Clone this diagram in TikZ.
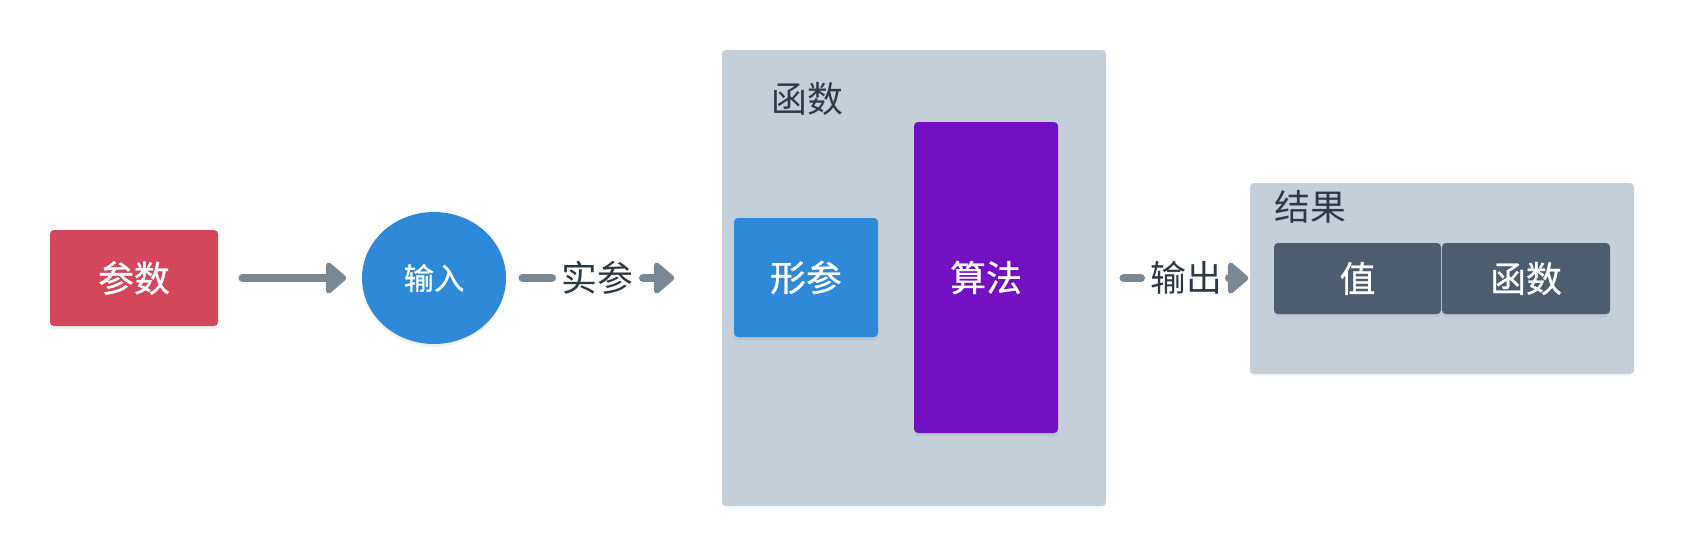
\documentclass[tikz,border=0pt]{standalone}
\usepackage{fontspec}
\newfontfamily\cjk{Noto Sans CJK SC}
\newfontfamily\cjkbox[FakeBold=0.8]{Noto Sans CJK SC}
\usetikzlibrary{shapes.geometric,arrows.meta,shadows}
\definecolor{boxred}{HTML}{D3465B}
\definecolor{boxblue}{HTML}{2E89D8}
\definecolor{boxpurple}{HTML}{7210C2}
\definecolor{boxdark}{HTML}{4B5D6E}
\definecolor{panelgray}{HTML}{C3D0DA}
\definecolor{flowgray}{HTML}{7A8896}
\definecolor{textdark}{HTML}{2C3A46}

\begin{document}
\begin{tikzpicture}[>={Triangle[length=0.22cm,width=0.36cm,round]},
font=\cjk\fontsize{10.2}{12}\selectfont,
main box/.style={rectangle,rounded corners=0.04cm,text=white,inner sep=0pt,
  font=\cjkbox\fontsize{10.2}{12}\selectfont,
  drop shadow={shadow xshift=0cm,shadow yshift=-0.03cm,opacity=0.12}},
panel/.style={rectangle,rounded corners=0.04cm,fill=panelgray,inner sep=0pt,
  drop shadow={shadow xshift=0cm,shadow yshift=-0.02cm,opacity=0.06}},
flow/.style={draw,color=flowgray,line width=0.085cm,line cap=round},
flow label/.style={text=textdark,inner sep=0pt,minimum width=0.9cm,minimum height=0.4cm}]
\useasboundingbox (0,0) rectangle (16.84,5.56);

% input side
  \node[main box,fill=boxred,minimum width=1.68cm,minimum height=0.96cm] (param) at (1.34,2.78) {参数};
  \node[ellipse,fill=boxblue,text=white,inner sep=0pt,minimum width=1.44cm,minimum height=1.32cm,
    font=\cjkbox\fontsize{8.6}{10}\selectfont,
    drop shadow={shadow xshift=0cm,shadow yshift=-0.03cm,opacity=0.12}] (input) at (4.34,2.78) {输入};

% function panel
  \node[panel,minimum width=3.84cm,minimum height=4.56cm] (func) at (9.14,2.78) {};
  \node[text=textdark] (funclabel) at (8.07,4.57) {函数};
  \node[main box,fill=boxblue,minimum width=1.44cm,minimum height=1.19cm] (formal) at (8.06,2.785) {形参};
  \node[main box,fill=boxpurple,minimum width=1.44cm,minimum height=3.11cm] (algo) at (9.86,2.785) {算法};

% result panel
  \node[panel,minimum width=3.84cm,minimum height=1.91cm] (result) at (14.42,2.775) {};
  \node[text=textdark] (resultlabel) at (13.10,3.49) {结果};
  \node[main box,fill=boxdark,minimum width=1.67cm,minimum height=0.71cm] (value) at (13.575,2.775) {值};
  \node[main box,fill=boxdark,minimum width=1.68cm,minimum height=0.71cm] (funcval) at (15.26,2.775) {函数};

% arrows
  \node[flow label] (actual) at (5.975,2.78) {实参};
  \node[flow label] (output) at (11.865,2.78) {输出};

  \path[flow]
    (param) edge [->,shorten <=0.24cm,shorten >=0.15cm] (input)
    (input) edge [shorten <=0.16cm] (actual)
    (actual) edge [->,shorten >=0.47cm] (func)
    (func) edge [shorten <=0.17cm] (output)
    (output) edge [->,shorten >=0.01cm] (result);

\end{tikzpicture}
\end{document}
